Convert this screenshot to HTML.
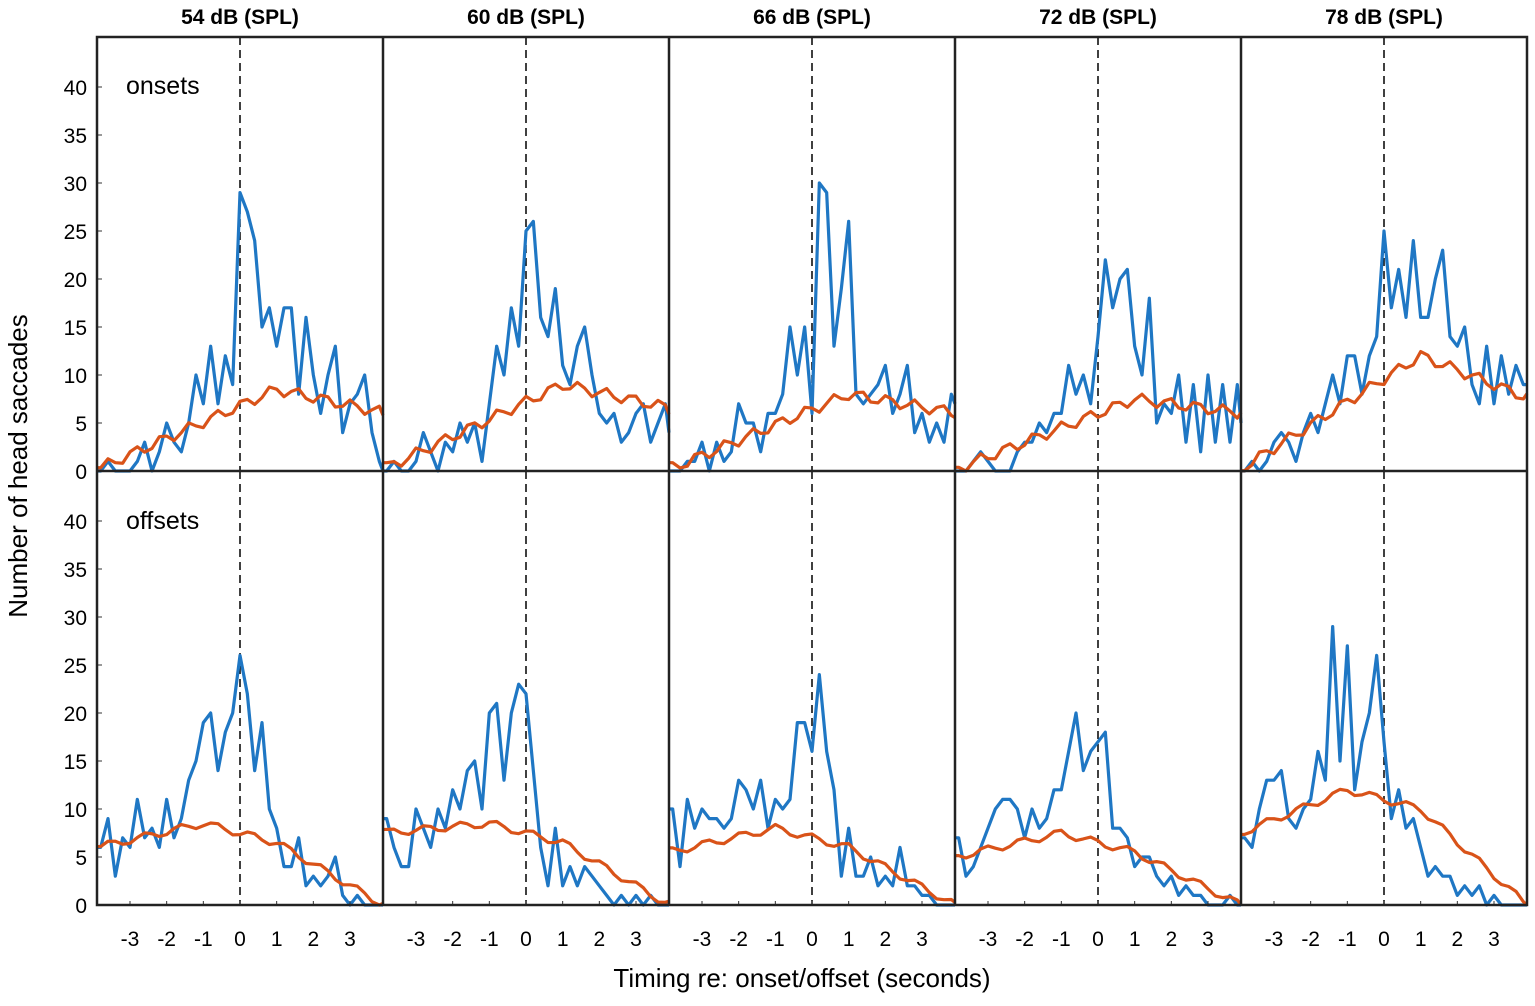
<!DOCTYPE html>
<html><head><meta charset="utf-8"><style>
body{margin:0;background:#fff;}
svg text{font-family:"Liberation Sans",Arial,sans-serif;}
</style></head><body>
<svg id="s" width="1535" height="1001" xmlns="http://www.w3.org/2000/svg"></svg>
<script>
(function(){
const S=document.getElementById('s');
let h='';
const X0=97,W=286,TOPS=[37,471],Hh=434;
const titles=['54 dB (SPL)','60 dB (SPL)','66 dB (SPL)','72 dB (SPL)','78 dB (SPL)'];
const blueOn=[
[0,1,0,0,0,1,3,0,2,5,3,2,5,10,7,13,7,12,9,29,27,24,15,17,13,17,17,8,16,10,6,10,13,4,7,8,10,4,1,0],
[0,1,0,0,1,4,2,0,3,2,5,3,5,1,7,13,10,17,13,25,26,16,14,19,11,9,13,15,10,6,5,6,3,4,6,7,3,5,7,4],
[0,0,1,1,3,0,3,1,2,7,5,5,2,6,6,8,15,10,15,6,30,29,13,19,26,8,7,8,9,11,6,8,11,4,6,3,5,3,8,7],
[0,0,1,2,1,0,0,0,2,3,3,5,4,6,6,11,8,10,7,14,22,17,20,21,13,10,18,5,7,6,10,3,9,2,10,3,9,3,9,5],
[0,1,0,1,3,4,3,1,4,6,4,7,10,7,12,12,8,12,14,25,17,21,16,24,16,16,20,23,14,13,15,9,7,13,7,12,8,11,9,9]];
const blueOff=[
[6,9,3,7,6,11,7,8,6,11,7,9,13,15,19,20,14,18,20,26,22,14,19,10,8,4,4,7,2,3,2,3,5,1,0,1,0,0,0,0],
[9,6,4,4,10,8,6,10,8,12,10,14,15,10,20,21,13,20,23,22,14,6,2,8,2,4,2,4,3,2,1,0,1,0,1,0,1,0,0,0],
[10,4,11,8,10,9,9,8,9,13,12,10,13,8,11,10,11,19,19,16,24,16,12,3,8,3,3,5,2,3,2,6,2,2,1,1,0,0,0,0],
[7,3,4,6,8,10,11,11,10,7,10,8,9,12,12,16,20,14,16,17,18,8,8,7,4,5,5,3,2,3,1,2,1,1,0,0,0,1,0,0],
[7,6,10,13,13,14,9,8,10,11,16,13,29,15,27,12,17,20,26,17,9,12,8,9,6,3,4,3,3,1,2,1,2,0,1,0,0,0,0,0]];
const T0=-3.8;
function redOn(i,p){const x=T0+i*0.2;const peak=[8.5,9,8,7.5,12][p];let v;
 if(x<1)v=peak*Math.max(0,(x+4)/5);else v=peak-(x-1)*(peak-[6,6.5,6,6,7.5][p])/3;
 return Math.max(0,v+0.6*Math.sin(i*1.7+p));}
function redOff(i,p){const x=T0+i*0.2;const pk=[8.5,8.5,8,7.5,12][p],st=[6,7.5,5.5,5,7.5][p];let v;
 if(x<-1)v=st+(pk-st)*(x+3.9)/2.9;else if(x<1)v=pk-(x+1)*1;else v=(pk-2)*Math.max(0,(3.9-x)/2.9);
 return Math.max(0,v+0.4*Math.sin(i*1.3+p));}
for(let r=0;r<2;r++){const y0=TOPS[r],yb=y0+Hh;
 for(let p=0;p<5;p++){const x0=X0+p*W;const sx=t=>Math.min(x0+W,x0+(t+3.9)/7.8*W),sy=v=>yb-v*9.6;
  h+=`<line x1="${x0+W/2}" y1="${y0}" x2="${x0+W/2}" y2="${yb}" stroke="#000" stroke-width="1.5" stroke-dasharray="8,5"/>`;
  const b=r?blueOff[p]:blueOn[p];let pts=[sx(-3.9)+','+sy(b[0])].concat(b.map((v,i)=>sx(T0+i*0.2)+','+sy(v))).join(' ');
  h+=`<polyline points="${pts}" fill="none" stroke="#1f77c4" stroke-width="3.2" stroke-linejoin="round"/>`;
  let rp=[sx(-3.9)+','+sy(r?redOff(0,p):redOn(0,p))];for(let i=0;i<40;i++)rp.push(sx(T0+i*0.2)+','+sy(r?redOff(i,p):redOn(i,p)));
  h+=`<polyline points="${rp.join(' ')}" fill="none" stroke="#d95319" stroke-width="3.2" stroke-linejoin="round"/>`;
  if(r==1){for(let t=-3;t<=3;t++){const xx=x0+(t+3.9)/7.8*W;h+=`<line x1="${xx}" y1="${yb}" x2="${xx}" y2="${yb-4}" stroke="#333"/>`;
   h+=`<text x="${xx}" y="946" font-size="21" text-anchor="middle">${t}</text>`;}}
  if(r==0)h+=`<text x="${x0+W/2}" y="24" font-size="21" font-weight="bold" text-anchor="middle">${titles[p]}</text>`;
 }
 for(let v=0;v<=40;v+=5){const y=yb-v*9.6;h+=`<text x="87" y="${y+8}" font-size="21" text-anchor="end">${v}</text><line x1="97" y1="${y}" x2="102" y2="${y}" stroke="#333"/>`;}
}
h+=`<rect x="97" y="37" width="1430" height="868" fill="none" stroke="#222" stroke-width="2.5"/>`;
h+=`<line x1="97" y1="471" x2="1527" y2="471" stroke="#222" stroke-width="2.5"/>`;
for(let p=1;p<5;p++)h+=`<line x1="${X0+p*W}" y1="37" x2="${X0+p*W}" y2="905" stroke="#222" stroke-width="2.5"/>`;
h+=`<text x="126" y="94" font-size="25">onsets</text><text x="126" y="529" font-size="25">offsets</text>`;
h+=`<text x="802" y="987" font-size="26" text-anchor="middle">Timing re: onset/offset (seconds)</text>`;
h+=`<text transform="translate(27,466) rotate(-90)" font-size="26" text-anchor="middle">Number of head saccades</text>`;
S.innerHTML=h;
})();
</script>
</body></html>
